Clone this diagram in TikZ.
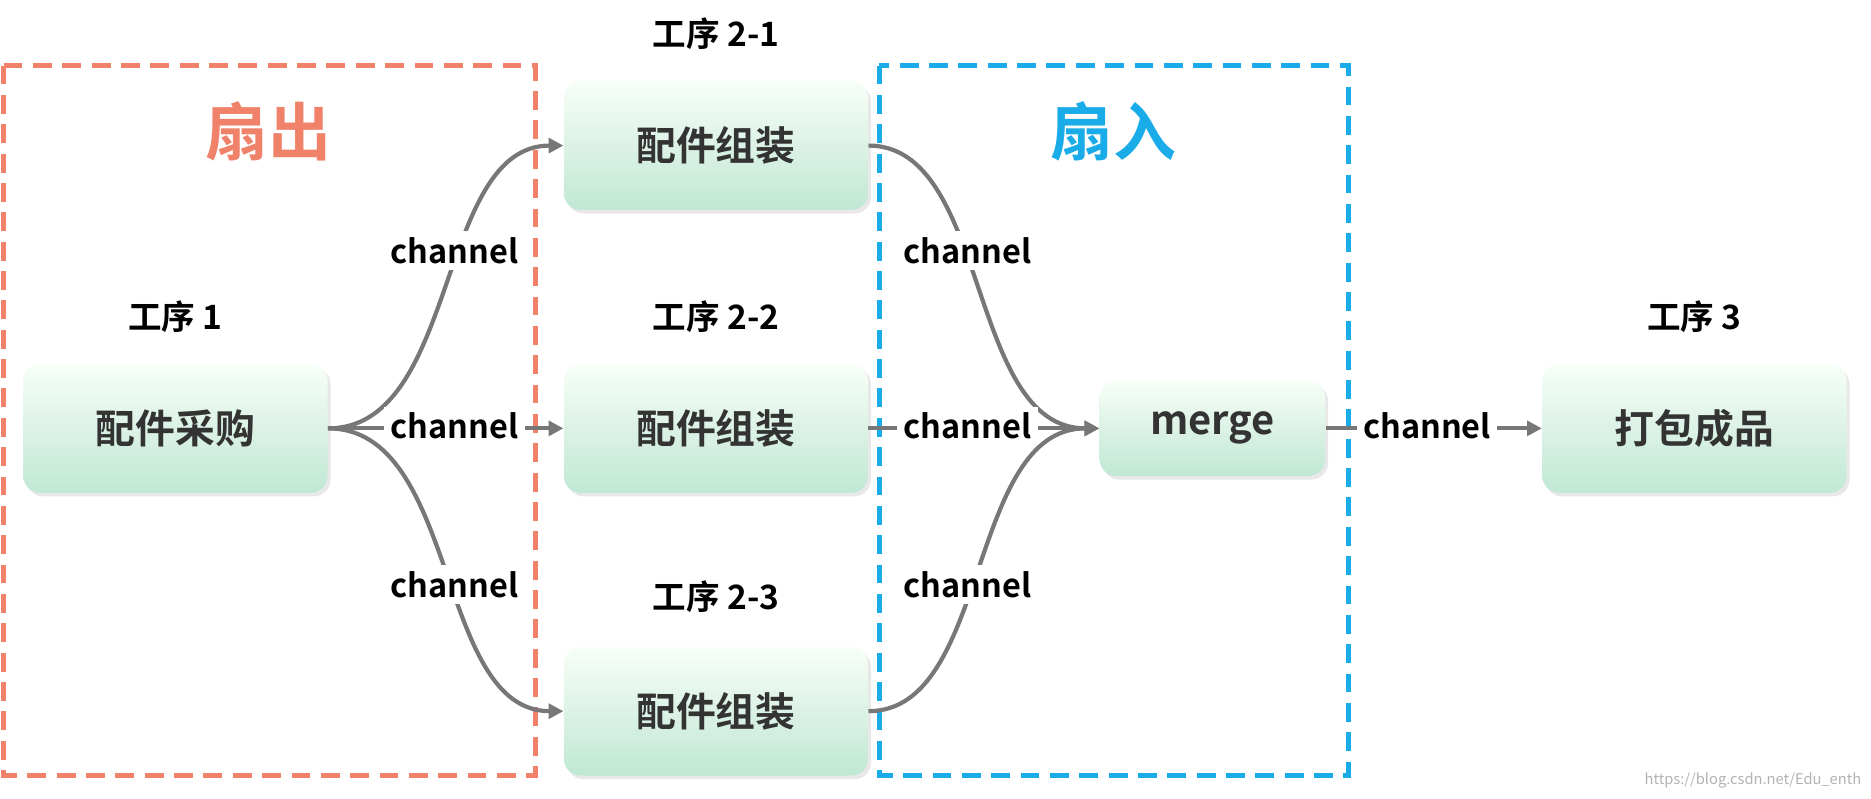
\documentclass[tikz,border=0pt]{standalone}
\usepackage{fontspec}
\setmainfont{Noto Sans CJK SC}[BoldFont={Noto Sans CJK SC Bold}]
\usetikzlibrary{shadows,arrows.meta}
\definecolor{fo}{HTML}{F0826A}
\definecolor{fi}{HTML}{1AACE8}
\definecolor{ln}{HTML}{777777}
\definecolor{tx}{HTML}{333333}
\tikzset{
 box/.style={rounded corners=8pt,top color=green!3!white!100,bottom color={rgb,255:red,192;green,232;blue,212},middle color={rgb,255:red,220;green,242;blue,230},
   draw=none,minimum width=5.1cm,minimum height=2.16cm,font=\bfseries\fontsize{19}{19}\selectfont,text=tx,
   drop shadow={opacity=0.18,shadow xshift=0.5mm,shadow yshift=-0.6mm}},
 lab/.style={font=\bfseries\fontsize{16}{16}\selectfont,text=black},
 ch/.style={font=\bfseries\fontsize{15.5}{15.5}\selectfont,text=black,fill=white,inner sep=3pt},
 con/.style={draw=ln,line width=2pt,-{Triangle[length=7pt,width=7pt]}},
 frame/.style={dashed,line width=2.2pt,dash pattern=on 9pt off 5pt}
}
\begin{document}
\begin{tikzpicture}[x=0.02cm,y=-0.02cm]
\useasboundingbox (0,0) rectangle (1568,669);
\draw[frame,fo] (3,55) rectangle (449,650);
\draw[frame,fi] (737,55) rectangle (1130,650);
\node[text=fo,font=\bfseries\fontsize{30}{30}\selectfont] (fo) at (225,110) {扇出};
\node[text=fi,font=\bfseries\fontsize{30}{30}\selectfont] (fi) at (933,110) {扇入};
\node[box] (a) at (147,359) {配件采购};
\node[box] (b1) at (600,122) {配件组装};
\node[box] (b2) at (600,359) {配件组装};
\node[box] (b3) at (600,596) {配件组装};
\node[box,minimum width=3.78cm,minimum height=1.6cm] (m) at (1016,359) {merge};
\node[box] (c) at (1420,359) {打包成品};
\node[lab] (la) at (147,265) {工序 1};
\node[lab] (lb1) at (600,28) {工序 2-1};
\node[lab] (lb2) at (600,265) {工序 2-2};
\node[lab] (lb3) at (600,500) {工序 2-3};
\node[lab] (lc) at (1420,265) {工序 3};
\draw[con] (a.east) .. controls (385,359) and (365,122) .. (b1.west);
\draw[con] (a.east) -- (b2.west);
\draw[con] (a.east) .. controls (385,359) and (365,596) .. (b3.west);
\draw[con] (b1.east) .. controls (830,122) and (810,359) .. (m.west);
\draw[con] (b2.east) -- (m.west);
\draw[con] (b3.east) .. controls (830,596) and (810,359) .. (m.west);
\draw[con] (m.east) -- (c.west);
\node[ch] (c1) at (381,210) {channel};
\node[ch] (c2) at (381,357) {channel};
\node[ch] (c3) at (381,490) {channel};
\node[ch] (c4) at (811,210) {channel};
\node[ch] (c5) at (811,357) {channel};
\node[ch] (c6) at (811,490) {channel};
\node[ch] (c7) at (1196,357) {channel};
\node[text=gray!60,font=\fontsize{7}{7}\selectfont,anchor=south east] (wm) at (1566,667) {https://blog.csdn.net/Edu\_enth};
\end{tikzpicture}
\end{document}
